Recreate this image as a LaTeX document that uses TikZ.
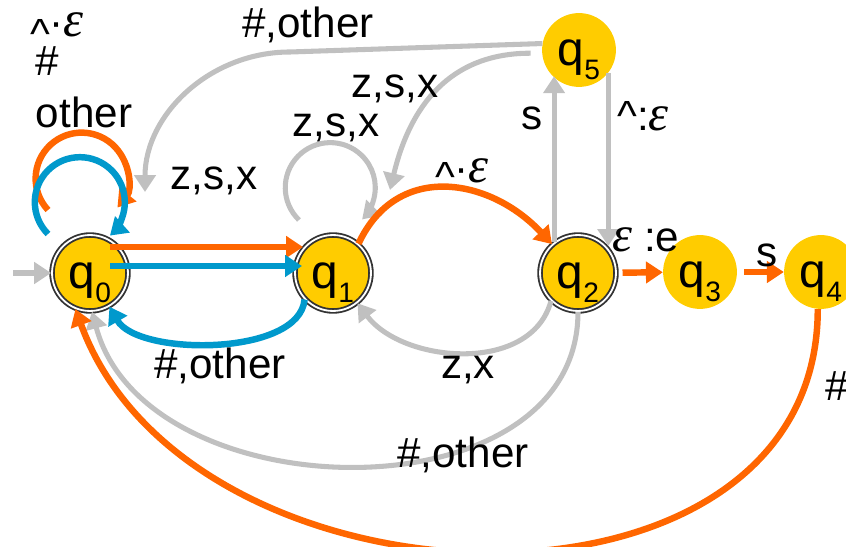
\documentclass[tikz,border=0pt]{standalone}
\usepackage{fontspec}
\setmainfont{Liberation Sans}
\newfontfamily\epsfont{Liberation Serif}
\usetikzlibrary{arrows.meta,calc}

\definecolor{qyellow}{HTML}{FFCC00}
\definecolor{qorange}{HTML}{FF6600}
\definecolor{qblue}{HTML}{0099CC}
\definecolor{lgray}{HTML}{C0C0C0}
\definecolor{ring}{HTML}{333333}

\newcommand{\qsub}[2]{#1\raisebox{-10pt}{\fontsize{20}{20}\selectfont #2}}
\newcommand{\veps}{{\epsfont\itshape\fontsize{36}{36}\selectfont ε}}

\begin{document}
\begin{tikzpicture}[x=0.025cm, y=0.025cm,
    accst/.style={circle, fill=qyellow, draw=ring, line width=1.3pt, double=white,
        double distance=1.3pt, minimum size=54pt, inner sep=0pt,
        font=\fontsize{34}{36}\selectfont, text height=22pt, text depth=0pt},
    plainst/.style={circle, fill=qyellow, minimum size=52.5pt, inner sep=0pt,
        font=\fontsize{34}{36}\selectfont, text height=22pt, text depth=0pt},
    lab/.style={font=\fontsize{30}{36}\selectfont, inner sep=0pt, anchor=base},
    arr/.style={-{Triangle[length=12pt,width=15pt]}},
    gry/.style={arr, draw=lgray, line width=3.6pt},
    org/.style={arr, draw=qorange, line width=4.6pt},
    blu/.style={arr, draw=qblue, line width=4.6pt}]
    \useasboundingbox (0,0) rectangle (846,546);

    % States
    \node[accst] (q0) at (90,273) {\qsub{q}{0}};
    \node[accst] (q1) at (333,273) {\qsub{q}{1}};
    \node[accst] (q2) at (578,273) {\qsub{q}{2}};
    \node[plainst] (q3) at (700,274) {\qsub{q}{3}};
    \node[plainst] (q4) at (821,274) {\qsub{q}{4}};
    \node[plainst] (q5) at (579,496) {\qsub{q}{5}};

    % Start
    \coordinate (init) at (13,273);
    \draw[gry] (init) -- (q0);

    % Loops on q0 and q1
    \coordinate (lo0) at (48,336);
    \draw[org] (lo0) arc[start angle=223, end angle=-39, radius=46];
    \coordinate (lb0) at (48,312);
    \draw[blu] (lb0) arc[start angle=225, end angle=-48, radius=45];
    \coordinate (lo1) at (299,326);
    \draw[gry] (lo1) arc[start angle=226, end angle=-45, radius=45];

    % q0 <-> q1
    \draw[org] ($(q0)+(20,26)$) -- ($(q1)+(-30,26)$);
    \draw[blu] ($(q0)+(20,7)$) -- ($(q1)+(-31,7)$);
    \draw[blu] (q1.223) to[out=-95, in=-60, looseness=0.75] (q0.-60);

    % q1 <-> q2
    \draw[org] (q1.49) to[out=65, in=133, looseness=1.2] (q2.132);
    \draw[gry] (q2.226) to[out=-105, in=-53] (q1.-51);

    % back to q0
    \draw[gry] (q2.-90) to[out=-90, in=-75, looseness=1.1] (q0.-87);
    \draw[org] (q4.265) to[out=-90, in=-70, looseness=1.15] (q0.-112);

    % q2 <-> q5
    \draw[gry] (q2.128) -- (q2.128 |- q5.225);
    \draw[gry] (q5.-38) -- (q5.-38 |- q2.44);

    % q5 back
    \coordinate (z1) at (390,356);
    \draw[gry, shorten <=8pt] (q5.185) .. controls (450,493) and (410,440) .. (z1);
    \draw[gry] (q5.170) -- (290,494) arc[start angle=90, end angle=180, x radius=145, y radius=140];

    % q2 -> q3 -> q4
    \draw[org, shorten <=4pt] (q2) -- (q3);
    \draw[org, shorten <=5pt] (q3) -- (q4);

    % Labels
    \node[lab] (l1) at (308,508) {\#,other};
    \node[lab] (l2) at (57,509) {\raisebox{-0.28em}{\textasciicircum}·\veps};
    \node[lab] (l3) at (47,470) {\#};
    \node[lab] (l4) at (84,418) {other};
    \node[lab] (l5) at (214,356) {z,s,x};
    \node[lab] (l6) at (336,409) {z,s,x};
    \node[lab] (l7) at (395,448) {z,s,x};
    \node[lab] (l8) at (532,416) {s};
    \node[lab] (l9) at (643,415) {\textasciicircum:\veps};
    \node[lab] (l10) at (462,363) {\raisebox{-0.2em}{\textasciicircum}·\veps};
    \node[lab] (l11) at (646,294) {\veps\ :e};
    \node[lab] (l12) at (767,279) {s};
    \node[lab] (l13) at (220,168) {\#,other};
    \node[lab] (l14) at (468,168) {z,x};
    \node[lab] (l15) at (463,79) {\#,other};
    \node[lab, anchor=base west] (l16) at (825,146) {\#};
\end{tikzpicture}
\end{document}
